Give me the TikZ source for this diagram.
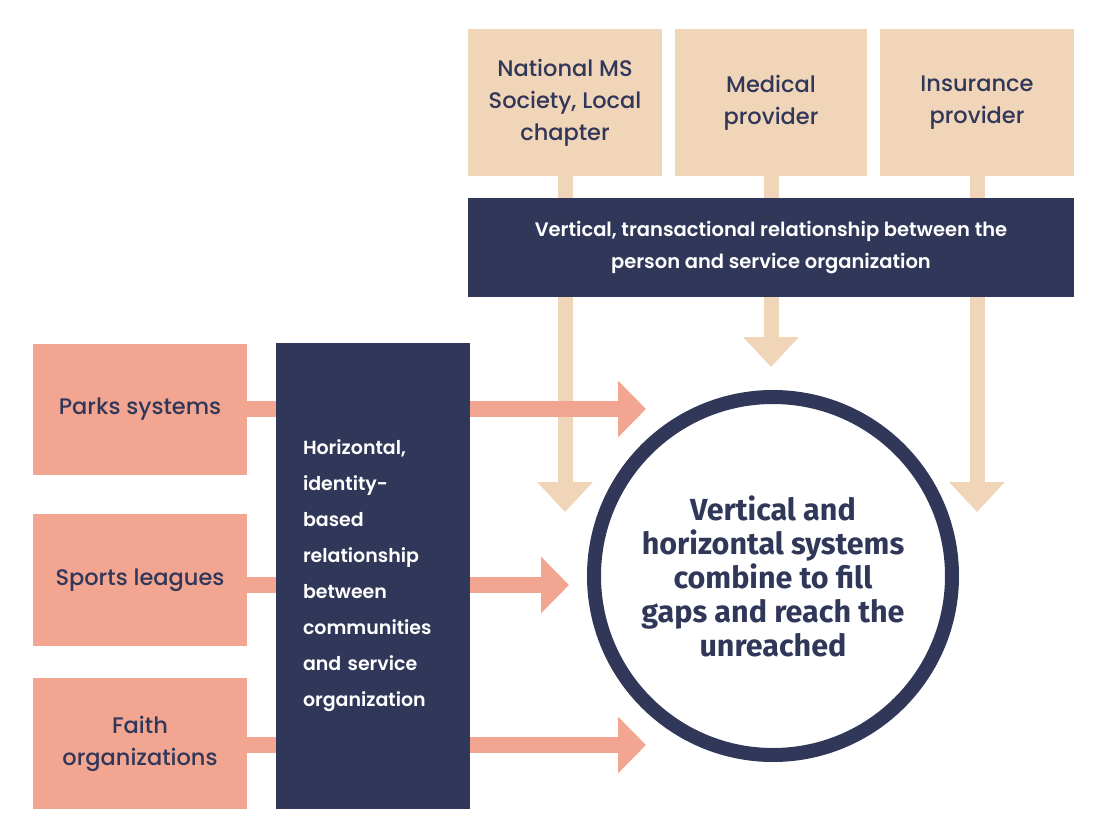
\documentclass[tikz,border=0pt]{standalone}
\usepackage{fontspec}
\setmainfont{Poppins}
\newfontfamily\pmed{Poppins Medium}
\newfontfamily\psemi{Poppins SemiBold}
\newfontfamily\circfont{Fira Sans}
\usetikzlibrary{arrows.meta,backgrounds}
\definecolor{navy}{HTML}{313759}
\definecolor{beige}{HTML}{F0D5B8}
\definecolor{salmon}{HTML}{F2A591}
\begin{document}
\begin{tikzpicture}[x=1pt,y=-1pt,
  topbox/.style={fill=beige, minimum width=194pt, minimum height=147pt, inner sep=0pt, text=navy, align=center, font=\pmed\fontsize{22.5}{32}\selectfont},
  pinkbox/.style={fill=salmon, minimum width=214pt, minimum height=131pt, inner sep=0pt, text=navy, align=center, font=\pmed\fontsize{22.5}{32}\selectfont},
  navybox/.style={fill=navy, inner sep=0pt, text=white, font=\psemi\fontsize{19.5}{32}\selectfont},
  vstem/.style={draw=beige, line width=15pt, -{Triangle[width=54pt,length=30pt]}},
  hstem/.style={draw=salmon, line width=16pt, -{Triangle[width=55pt,length=28pt]}},
  goalstyle/.style={circle, draw=navy, line width=14pt, minimum size=358pt, fill=white, inner sep=0pt, align=center, text=navy, font=\circfont\bfseries\fontsize{30.5}{34}\selectfont}
]
\useasboundingbox (0,0) rectangle (1096,822);

% top providers
\node[topbox] (ms) at (565,102.5) {National MS\\Society, Local\\chapter};
\node[topbox, minimum width=192pt] (med) at (771,102.5) {Medical\\provider};
\node[topbox] (ins) at (977,102.5) {Insurance\\provider};

% vertical bar
\node[navybox, minimum width=606pt, minimum height=99pt, align=center] (vbar) at (771,247.5) {Vertical, transactional relationship between the\\person and service organization};

% left community boxes
\node[pinkbox] (parks) at (140,409) {Parks systems};
\node[pinkbox, minimum height=132pt] (sports) at (140,580) {Sports leagues};
\node[pinkbox] (faith) at (140,743.5) {Faith\\organizations};

% horizontal bar
\node[navybox, minimum width=194pt, minimum height=466pt, text width=140pt, align=left, font=\psemi\fontsize{19}{36}\selectfont] (hbar) at (373,576) {Horizontal,\\identity-\\based\\relationship\\between\\communities\\and service\\organization};

% goal circle
\node[goalstyle] (goal) at (773,576) {Vertical and\\horizontal systems\\combine to fill\\gaps and reach the\\unreached};

% arrow end points
\coordinate (t1) at (565,512);
\coordinate (t2) at (771,367);
\coordinate (t3) at (977,512);
\coordinate (h1) at (646,409);
\coordinate (h2) at (569,585);
\coordinate (h3) at (646,745);

\begin{scope}[on background layer]
\draw[vstem] (ms.south) -- (t1);
\draw[vstem] (med.south) -- (t2);
\draw[vstem] (ins.south) -- (t3);
\draw[hstem] (parks.east |- h1) -- (h1);
\draw[hstem] (sports.east |- h2) -- (h2);
\draw[hstem] (faith.east |- h3) -- (h3);
\end{scope}
\end{tikzpicture}
\end{document}
